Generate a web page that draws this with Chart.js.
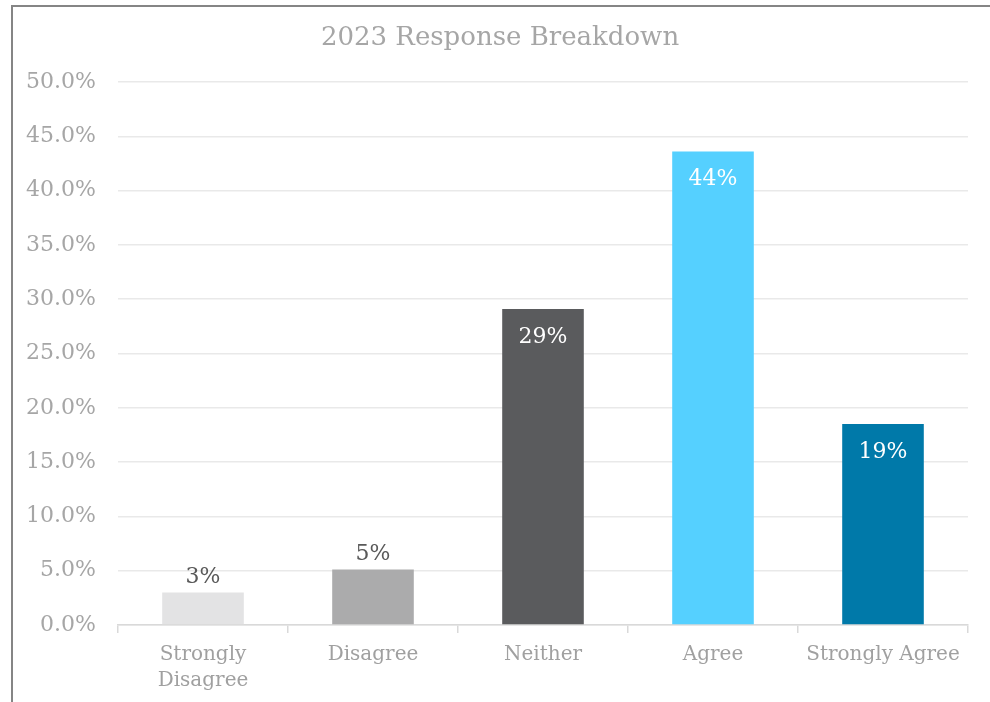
<!DOCTYPE html>
<html>
<head>
<meta charset="utf-8">
<script src="https://cdn.jsdelivr.net/npm/chart.js@4/dist/chart.umd.min.js"></script>
<style>
  html, body { margin: 0; padding: 0; background: #fff; }
  #wrap { position: relative; width: 990px; height: 702px; }
  #frame { position: absolute; left: 11px; top: 5px; right: 0; bottom: 0;
           border-left: 2px solid #858585; border-top: 2px solid #858585; }
  canvas { position: absolute; left: 0; top: 0; }
</style>
</head>
<body>
<div id="wrap">
  <div id="frame"></div>
  <canvas id="myChart" width="990" height="702"></canvas>
</div>
<script>
var categories = [["Strongly", "Disagree"], "Disagree", "Neither", "Agree", "Strongly Agree"];
var shares = [3.0, 5.1, 29.1, 43.6, 18.5];
var barColors = ["#e3e3e4", "#ababac", "#5a5b5d", "#55d0ff", "#0079a9"];
var labelInside = [false, false, true, true, true];
var chartTitle = "2023 Response Breakdown";
var fontFamily = "'DejaVu Serif', 'Liberation Serif', serif";

// title is centred on the whole frame, not on the plot, so draw it by hand
var frameTitle = {
  id: "frameTitle",
  afterDraw: function (chart) {
    var ctx = chart.ctx;
    ctx.save();
    ctx.font = "26px " + fontFamily;
    ctx.fillStyle = "#a6a6a6";
    ctx.textAlign = "center";
    ctx.textBaseline = "middle";
    ctx.fillText(chartTitle, 500, 38);
    ctx.restore();
  }
};

var barLabels = {
  id: "barLabels",
  afterDatasetsDraw: function (chart) {
    var ctx = chart.ctx;
    var meta = chart.getDatasetMeta(0);
    ctx.save();
    ctx.font = "22px " + fontFamily;
    ctx.textAlign = "center";
    meta.data.forEach(function (bar, i) {
      var text = Math.round(shares[i]) + "%";
      if (labelInside[i]) {
        ctx.fillStyle = "#ffffff";
        ctx.textBaseline = "top";
        ctx.fillText(text, bar.x, bar.y + 17);
      } else {
        ctx.fillStyle = "#595959";
        ctx.textBaseline = "bottom";
        ctx.fillText(text, bar.x, bar.y - 4);
      }
    });
    ctx.restore();
  }
};

new Chart("myChart", {
  type: "bar",
  data: {
    labels: categories,
    datasets: [{
      data: shares,
      backgroundColor: barColors,
      barPercentage: 0.48,
      categoryPercentage: 1.0
    }]
  },
  plugins: [barLabels, frameTitle],
  options: {
    responsive: false,
    animation: false,
    layout: { padding: { left: 0, right: 22, top: 82, bottom: 0 } },
    plugins: {
      legend: { display: false },
      tooltip: { enabled: false },
      title: { display: false }
    },
    scales: {
      x: {
        grid: {
          offset: true,
          drawOnChartArea: false,
          drawTicks: true,
          tickLength: 8,
          color: "#d9d9d9",
          lineWidth: 1.5
        },
        border: { display: true, color: "#d9d9d9", width: 1.5 },
        ticks: {
          color: "#a0a0a0",
          padding: 9,
          maxRotation: 0,
          font: { family: fontFamily, size: 20, lineHeight: 1.3 }
        },
        afterFit: function (scale) { scale.height = 77; }
      },
      y: {
        min: 0,
        max: 50,
        ticks: {
          stepSize: 5,
          color: "#a6a6a6",
          padding: 22,
          font: { family: fontFamily, size: 22 },
          callback: function (v) { return v.toFixed(1) + "%"; }
        },
        grid: { color: "#e9e9e9", lineWidth: 1.5, drawTicks: false },
        border: { display: false },
        afterFit: function (scale) { scale.width = 118; }
      }
    }
  }
});
</script>
</body>
</html>
